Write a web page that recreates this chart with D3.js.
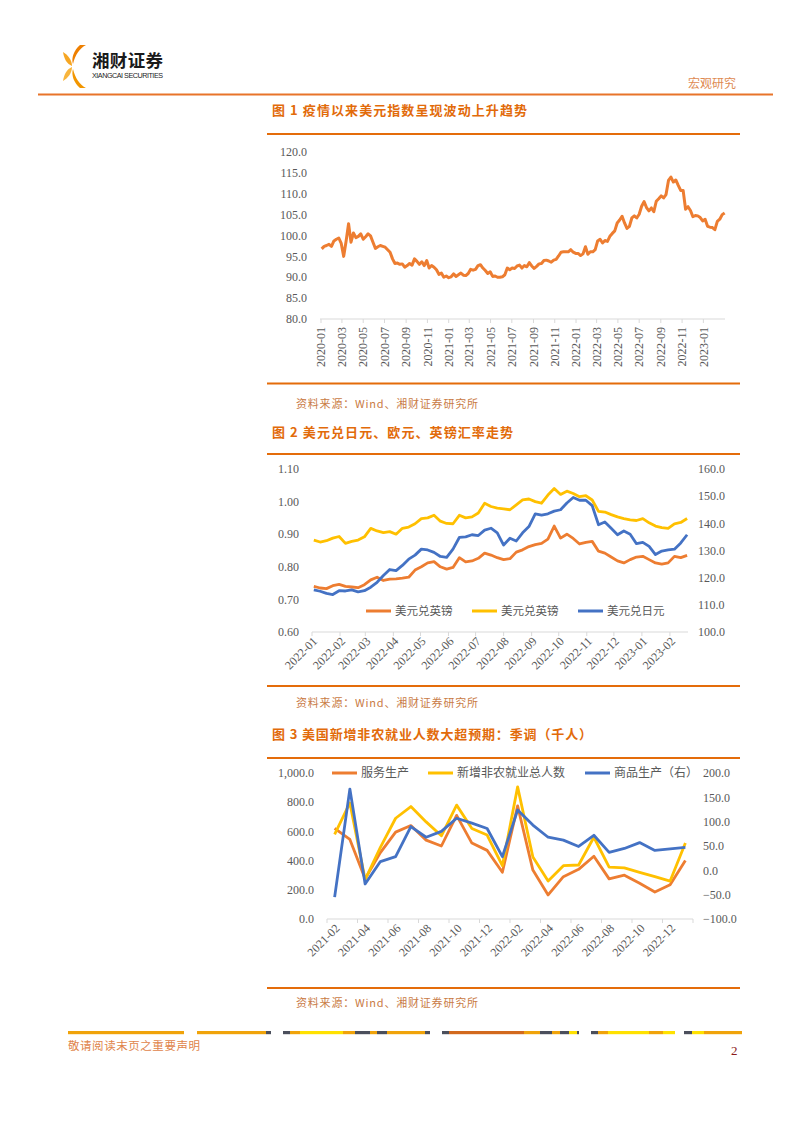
<!DOCTYPE html>
<html><head><meta charset="utf-8">
<script src="https://cdn.jsdelivr.net/npm/d3@7"></script>
<style>body{margin:0;background:#fff}svg{display:block}</style>
</head><body>
<svg id="page" width="802" height="1133"></svg>
<script>
// ---------------- DATA ----------------
// Figure 1: US dollar index, weekly readings starting 2020-01-03
const dxyStart = "2020-01-03";
const dxyValues = [
  96.8, 97.4, 97.6, 97.9, 97.4, 98.7, 99.1, 99.4, 98.1, 95.0, 98.7, 102.8, 98.4,
  100.6, 99.5, 99.8, 100.4, 99.1, 99.7, 100.4, 99.9, 98.4, 96.9, 97.3, 97.6, 97.4,
  97.2, 96.6, 96.0, 94.4, 93.3, 93.4, 93.1, 93.2, 92.4, 92.8, 93.3, 92.9, 94.4,
  93.8, 93.1, 93.7, 92.8, 94.0, 92.2, 92.8, 92.4, 91.8, 90.7, 91.0, 90.0, 90.3,
  89.9, 90.1, 90.8, 90.2, 90.6, 91.0, 90.5, 90.4, 90.9, 91.9, 91.7, 91.9, 92.8,
  93.0, 92.2, 91.6, 90.9, 91.3, 90.2, 90.3, 90.0, 90.0, 90.1, 90.6, 92.2, 91.8,
  92.2, 92.1, 92.7, 92.9, 92.2, 92.8, 92.5, 93.5, 92.7, 92.1, 92.6, 93.2, 93.3,
  94.0, 94.1, 93.9, 93.6, 94.1, 94.3, 95.1, 96.0, 96.1, 96.1, 96.1, 96.6, 96.0, 95.7,
  95.7, 95.2, 95.6, 97.3, 95.5, 96.1, 96.1, 96.6, 98.7, 99.1, 98.2, 98.8,
  98.6, 99.8, 100.5, 101.1, 103.0, 103.7, 104.6, 103.0, 101.7, 102.2, 104.2, 104.7, 104.2,
  105.1, 107.0, 108.1, 106.7, 105.9, 106.6, 105.7, 108.2, 108.8, 109.5, 109.0, 109.8, 113.2, 114.0,
  112.8, 113.3, 112.0, 110.8, 110.8, 106.3, 106.9, 106.0, 104.5, 104.8, 104.7, 104.3, 103.5,
  103.9, 102.2, 102.0, 101.9, 101.4, 103.4, 103.9, 105.0, 105.4
];
const dxyTicks = [80, 85, 90, 95, 100, 105, 110, 115, 120];

// Figure 2: exchange rates, weekly readings starting 2022-01-03
const fxStart = "2022-01-03";
const gbpValues = [
  0.740, 0.735, 0.733, 0.742, 0.746, 0.740, 0.738, 0.736, 0.745, 0.760, 0.768, 0.758,
  0.762, 0.763, 0.765, 0.768, 0.790, 0.800, 0.812, 0.816, 0.800, 0.793, 0.798, 0.828,
  0.815, 0.818, 0.826, 0.842, 0.836, 0.828, 0.822, 0.825, 0.845, 0.852, 0.862, 0.868,
  0.872, 0.885, 0.925, 0.888, 0.900, 0.887, 0.870, 0.875, 0.878, 0.848, 0.842, 0.830,
  0.818, 0.812, 0.822, 0.830, 0.832, 0.822, 0.812, 0.808, 0.812, 0.832, 0.828, 0.835
];
const eurValues = [
  0.882, 0.876, 0.880, 0.888, 0.893, 0.872, 0.878, 0.882, 0.892, 0.918, 0.910, 0.905,
  0.908, 0.900, 0.918, 0.922, 0.932, 0.948, 0.950, 0.958, 0.940, 0.933, 0.932, 0.958,
  0.950, 0.953, 0.965, 0.995, 0.985, 0.980, 0.978, 0.975, 0.990, 1.005, 1.008, 1.000,
  0.995, 1.020, 1.040, 1.022, 1.032, 1.025, 1.015, 1.018, 1.005, 0.970, 0.968, 0.960,
  0.953, 0.948, 0.944, 0.942, 0.948, 0.935, 0.925, 0.920, 0.918, 0.932, 0.936, 0.948
];
const jpyValues = [
  115.5, 115.0, 114.2, 113.8, 115.2, 115.1, 115.5, 114.8, 115.2, 116.5, 118.3, 120.8,
  123.0, 122.6, 124.5, 126.8, 128.3, 130.5, 130.2, 129.3, 127.8, 127.5, 130.5, 134.8,
  135.0, 135.8, 135.5, 137.5, 138.2, 136.5, 132.0, 134.5, 133.5, 136.5, 138.8, 143.5,
  143.0, 143.5, 144.5, 145.0, 147.5, 149.5, 148.5, 148.5, 146.5, 139.5, 140.5, 138.2,
  135.8, 137.2, 136.0, 132.5, 133.0, 131.5, 128.5, 129.8, 130.2, 130.5, 132.8, 135.8
];
const fxLeftTicks = [0.6, 0.7, 0.8, 0.9, 1.0, 1.1];
const fxRightTicks = [100, 110, 120, 130, 140, 150, 160];
const fxLegend = ["美元兑英镑", "美元兑英镑", "美元兑日元"];

// Figure 3: nonfarm payrolls (thousands)
const nfpMonths = ["2021-02","2021-03","2021-04","2021-05","2021-06","2021-07","2021-08","2021-09",
  "2021-10","2021-11","2021-12","2022-01","2022-02","2022-03","2022-04","2022-05","2022-06",
  "2022-07","2022-08","2022-09","2022-10","2022-11","2022-12","2023-01"];
const servicesValues = [620, 545, 275, 455, 595, 640, 540, 500, 710, 520, 470, 320,
  775, 335, 165, 290, 340, 430, 275, 300, 245, 185, 235, 400];
const totalValues = [580, 795, 270, 490, 690, 770, 665, 570, 780, 620, 575, 365,
  905, 425, 260, 365, 370, 560, 355, 350, 320, 290, 260, 520];
const goodsValues = [-55, 167, -28, 18, 28, 90, 68, 80, 107, 97, 86, 28,
  124, 93, 68, 62, 49, 72, 37, 45, 57, 41, 44, 47];
const nfpLeftTicks = [0, 200, 400, 600, 800, 1000];
const nfpRightTicks = [-100, -50, 0, 50, 100, 150, 200];
const nfpLegend = ["服务生产", "新增非农就业总人数", "商品生产（右）"];

// ---------------- STYLE ----------------
const svg = d3.select("#page");
const RULE = "#E46C0A", TITLE = "#E26B0A", SRC = "#C97B45", AXT = "#595959", AXL = "#D9D9D9";
const C_OR = "#ED7D31", C_YE = "#FFC000", C_BL = "#4472C4";
const serif = "'Liberation Serif','Times New Roman',serif";
const cjk = "'Noto Sans CJK SC','Noto Sans',sans-serif";
const parse = d3.timeParse("%Y-%m-%d");
const fmtYM = d3.timeFormat("%Y-%m");

function rule(y, x1, x2, w, color) {
  svg.append("line").attr("x1", x1).attr("x2", x2).attr("y1", y).attr("y2", y)
    .attr("stroke", color || RULE).attr("stroke-width", w || 1.8);
}
function text(x, y, s, size, color, opts = {}) {
  const t = svg.append("text").attr("x", x).attr("y", y).text(s)
    .attr("font-size", size).attr("fill", color)
    .attr("font-family", opts.family || cjk);
  if (opts.weight) t.attr("font-weight", opts.weight);
  if (opts.anchor) t.attr("text-anchor", opts.anchor);
  if (opts.len) t.attr("textLength", opts.len).attr("lengthAdjust", "spacing");
  return t;
}

// ---------------- HEADER ----------------
const logo = svg.append("g");
logo.append("path").attr("d", "M86,45 C80,48 75,55 73,64 C71,58 74,50 80,45 Z").attr("fill", "#EE7F00");
logo.append("path").attr("d", "M86,88 C80,85 75,78 73,69 C71,75 74,83 80,88 Z").attr("fill", "#F29600");
logo.append("path").attr("d", "M63,52 C68,55 72,60 72,66 C67,64 64,59 63,52 Z").attr("fill", "#F6A623");
logo.append("path").attr("d", "M63,81 C68,78 72,73 72,67 C67,69 64,74 63,81 Z").attr("fill", "#F8B53C");
text(92, 67, "湘财证券", 17.5, "#1a1a1a", {weight: "bold", len: 71});
text(92, 77.5, "XIANGCAI SECURITIES", 7.2, "#1a1a1a", {family: "'Liberation Sans',Arial,sans-serif", len: 71});
text(688, 88, "宏观研究", 12, "#DE8A52", {len: 48});
rule(94.5, 38, 773, 2, "#E8742A");

// ---------------- FIGURE 1 ----------------
text(272, 115, "图 1 疫情以来美元指数呈现波动上升趋势", 13, TITLE, {weight: "bold", len: 255});
rule(134, 267, 740);
{
  const x = d3.scaleTime().domain([new Date(2020, 0, 1), new Date(2023, 2, 4)]).range([321, 725]);
  const y = d3.scaleLinear().domain([80, 120]).range([319, 152]);
  const t0 = parse(dxyStart);
  const pts = dxyValues.map((v, i) => [d3.timeDay.offset(t0, 7 * i), v]);
  const g = svg.append("g");
  g.append("line").attr("x1", 320).attr("x2", 725).attr("y1", 319).attr("y2", 319).attr("stroke", AXL);
  const ticks = d3.timeMonth.every(2).range(new Date(2020, 0, 1), new Date(2023, 1, 2));
  ticks.forEach(d => {
    g.append("line").attr("x1", x(d)).attr("x2", x(d)).attr("y1", 319).attr("y2", 323).attr("stroke", AXL);
    g.append("text").attr("transform", `translate(${x(d)},327) rotate(-90)`)
      .attr("text-anchor", "end").attr("dy", "0.35em").attr("font-size", 12)
      .attr("font-family", serif).attr("fill", AXT).text(fmtYM(d));
  });
  dxyTicks.forEach(v => {
    g.append("text").attr("x", 307).attr("y", y(v)).attr("dy", "0.35em").attr("text-anchor", "end")
      .attr("font-size", 12).attr("font-family", serif).attr("fill", AXT).text(d3.format(".1f")(v));
  });
  g.append("path").datum(pts).attr("fill", "none").attr("stroke", C_OR).attr("stroke-width", 3)
    .attr("stroke-linejoin", "round")
    .attr("d", d3.line().x(d => x(d[0])).y(d => y(d[1])));
}
rule(383.5, 267, 740);
text(296, 408, "资料来源：Wind、湘财证券研究所", 11, SRC, {len: 182});

// ---------------- FIGURE 2 ----------------
text(272, 437, "图 2 美元兑日元、欧元、英镑汇率走势", 13, TITLE, {weight: "bold", len: 241});
rule(454, 267, 740);
{
  const x = d3.scaleTime().domain([new Date(2022, 0, 1), new Date(2023, 1, 21)]).range([312, 688]);
  const yl = d3.scaleLinear().domain([0.6, 1.1]).range([632, 469]);
  const yr = d3.scaleLinear().domain([100, 160]).range([632, 469]);
  const t0 = parse(fxStart);
  const dates = gbpValues.map((_, i) => d3.timeDay.offset(t0, 7 * i));
  const g = svg.append("g");
  g.append("line").attr("x1", 312).attr("x2", 688).attr("y1", 632).attr("y2", 632).attr("stroke", AXL);
  const ticks = d3.timeMonth.every(1).range(new Date(2022, 0, 1), new Date(2023, 1, 2));
  ticks.forEach(d => {
    g.append("line").attr("x1", x(d)).attr("x2", x(d)).attr("y1", 632).attr("y2", 636).attr("stroke", AXL);
    g.append("text").attr("transform", `translate(${x(d) + 3},639) rotate(-45)`)
      .attr("text-anchor", "end").attr("dy", "0.35em").attr("font-size", 12)
      .attr("font-family", serif).attr("fill", AXT).text(fmtYM(d));
  });
  fxLeftTicks.forEach(v => {
    g.append("text").attr("x", 299).attr("y", yl(v)).attr("dy", "0.35em").attr("text-anchor", "end")
      .attr("font-size", 12).attr("font-family", serif).attr("fill", AXT).text(d3.format(".2f")(v));
  });
  fxRightTicks.forEach(v => {
    g.append("text").attr("x", 698).attr("y", yr(v)).attr("dy", "0.35em").attr("text-anchor", "start")
      .attr("font-size", 12).attr("font-family", serif).attr("fill", AXT).text(d3.format(".1f")(v));
  });
  const series = [[gbpValues, yl, C_OR], [eurValues, yl, C_YE], [jpyValues, yr, C_BL]];
  series.forEach(([vals, sc, col]) => {
    g.append("path").datum(vals).attr("fill", "none").attr("stroke", col).attr("stroke-width", 2.8)
      .attr("stroke-linejoin", "round")
      .attr("d", d3.line().x((d, i) => x(dates[i])).y(d => sc(d)));
  });
  const lg = [[366, C_OR], [472, C_YE], [578, C_BL]];
  lg.forEach(([lx, col], i) => {
    g.append("line").attr("x1", lx).attr("x2", lx + 25).attr("y1", 611).attr("y2", 611)
      .attr("stroke", col).attr("stroke-width", 3);
    g.append("text").attr("x", lx + 29).attr("y", 611).attr("dy", "0.35em").attr("font-size", 11.5)
      .attr("font-family", cjk).attr("fill", AXT).text(fxLegend[i]);
  });
}
rule(686, 267, 740);
text(296, 707, "资料来源：Wind、湘财证券研究所", 11, SRC, {len: 182});

// ---------------- FIGURE 3 ----------------
text(272, 739, "图 3 美国新增非农就业人数大超预期：季调（千人）", 13, TITLE, {weight: "bold", len: 320});
rule(758, 267, 740);
{
  const x = d3.scaleBand().domain(nfpMonths).range([327, 693]);
  const cx = m => x(m) + x.bandwidth() / 2;
  const yl = d3.scaleLinear().domain([0, 1000]).range([919, 773]);
  const yr = d3.scaleLinear().domain([-100, 200]).range([919, 773]);
  const g = svg.append("g");
  g.append("line").attr("x1", 327).attr("x2", 693).attr("y1", 919).attr("y2", 919).attr("stroke", AXL);
  nfpMonths.forEach((m, i) => {
    if (i % 2 === 0) {
      g.append("line").attr("x1", x(m)).attr("x2", x(m)).attr("y1", 919).attr("y2", 923).attr("stroke", AXL);
      g.append("text").attr("transform", `translate(${cx(m) + 3},926) rotate(-45)`)
        .attr("text-anchor", "end").attr("dy", "0.35em").attr("font-size", 12)
        .attr("font-family", serif).attr("fill", AXT).text(m);
    }
  });
  g.append("line").attr("x1", 693).attr("x2", 693).attr("y1", 919).attr("y2", 923).attr("stroke", AXL);
  nfpLeftTicks.forEach(v => {
    g.append("text").attr("x", 314).attr("y", yl(v)).attr("dy", "0.35em").attr("text-anchor", "end")
      .attr("font-size", 12).attr("font-family", serif).attr("fill", AXT).text(d3.format(",.1f")(v));
  });
  nfpRightTicks.forEach(v => {
    g.append("text").attr("x", 703).attr("y", yr(v)).attr("dy", "0.35em").attr("text-anchor", "start")
      .attr("font-size", 12).attr("font-family", serif).attr("fill", AXT).text(d3.format(".1f")(v));
  });
  const series = [[servicesValues, yl, C_OR], [totalValues, yl, C_YE], [goodsValues, yr, C_BL]];
  series.forEach(([vals, sc, col]) => {
    g.append("path").datum(vals).attr("fill", "none").attr("stroke", col).attr("stroke-width", 2.8)
      .attr("stroke-linejoin", "round")
      .attr("d", d3.line().x((d, i) => cx(nfpMonths[i])).y(d => sc(d)));
  });
  const lg = [[332, C_OR], [428, C_YE], [585, C_BL]];
  lg.forEach(([lx, col], i) => {
    g.append("line").attr("x1", lx).attr("x2", lx + 25).attr("y1", 773).attr("y2", 773)
      .attr("stroke", col).attr("stroke-width", 3);
    g.append("text").attr("x", lx + 29).attr("y", 773).attr("dy", "0.35em").attr("font-size", 12)
      .attr("font-family", cjk).attr("fill", AXT).text(nfpLegend[i]);
  });
}
rule(988, 267, 740);
text(296, 1007, "资料来源：Wind、湘财证券研究所", 11, SRC, {len: 182});

// ---------------- FOOTER ----------------
const OR = "#F0A30A", DK = "#4B4F5C", YE = "#FFE100", DO = "#D2691E";
const footSegs = [
  [68, 184, OR], [197, 266, OR], [266, 271, DK],
  [283, 290, DK], [290, 300, OR], [300, 343, YE], [343, 355, OR], [355, 370, DK], [370, 377, OR],
  [377, 387, DK], [387, 425, OR], [425, 430, DK],
  [442, 449, DK], [449, 524, DO], [524, 540, OR], [540, 552, DK], [552, 560, OR], [560, 569, DK],
  [569, 577, YE], [577, 579, DK],
  [591, 598, DK], [598, 608, OR], [608, 649, YE], [649, 663, OR], [663, 675, YE],
  [684, 692, DK], [692, 704, YE], [704, 742, OR]
];
footSegs.forEach(([a, b, c]) => {
  svg.append("rect").attr("x", a).attr("y", 1031).attr("width", b - a).attr("height", 3.2).attr("fill", c);
});
text(68, 1050, "敬请阅读末页之重要声明", 11.5, "#E0844A", {len: 132});
text(731, 1055, "2", 13, "#8B1A1A", {family: serif});
</script>
</body></html>
